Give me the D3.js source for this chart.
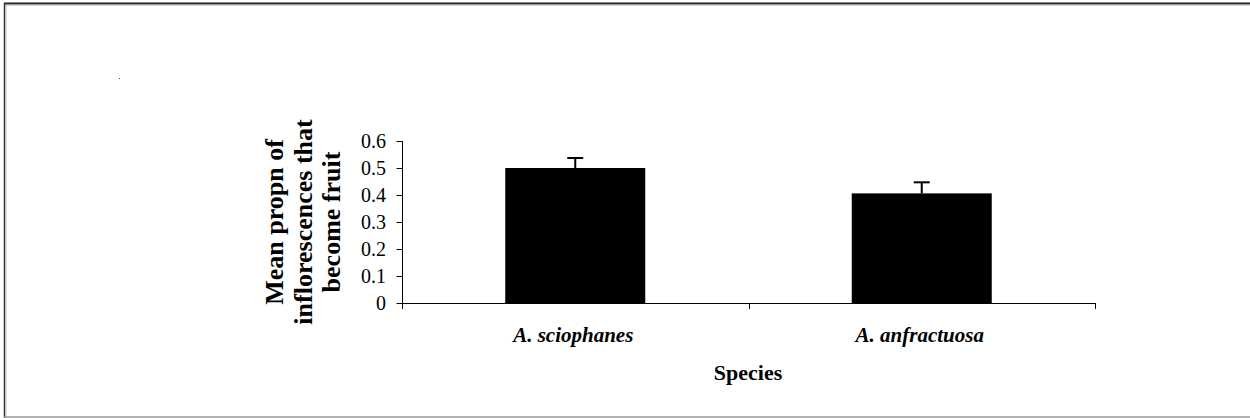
<!DOCTYPE html>
<html>
<head>
<meta charset="utf-8">
<script src="https://cdn.jsdelivr.net/npm/d3@7"></script>
<style>
  html, body { margin: 0; padding: 0; background: #fff; }
  svg { display: block; }
  text { font-family: "Liberation Serif", "Times New Roman", serif; fill: #000; }
</style>
</head>
<body>
<svg id="chart" width="1250" height="418"></svg>
<script>
const categories = ["A. sciophanes", "A. anfractuosa"];
const means = [0.50, 0.406];
const errors = [0.037, 0.041];
const yTicks = [0, 0.1, 0.2, 0.3, 0.4, 0.5, 0.6];
const yTitleLines = ["Mean propn of", "inflorescences that", "become fruit"];
const xTitle = "Species";

const svg = d3.select("#chart");

// outer frame
svg.append("line").attr("x1", 4).attr("x2", 1250).attr("y1", 3.5).attr("y2", 3.5).attr("stroke", "#222").attr("stroke-width", 2);
svg.append("line").attr("x1", 4).attr("x2", 1250).attr("y1", 5).attr("y2", 5).attr("stroke", "#aaa").attr("stroke-width", 1);
svg.append("line").attr("x1", 4.5).attr("x2", 4.5).attr("y1", 3).attr("y2", 418).attr("stroke", "#333").attr("stroke-width", 1.5);
svg.append("line").attr("x1", 6).attr("x2", 6).attr("y1", 5).attr("y2", 418).attr("stroke", "#bbb").attr("stroke-width", 1);
svg.append("line").attr("x1", 4).attr("x2", 1250).attr("y1", 417).attr("y2", 417).attr("stroke", "#999").attr("stroke-width", 1.5);
// stray dot
svg.append("rect").attr("x", 119).attr("y", 78).attr("width", 1).attr("height", 1).attr("fill", "#444");

const x0 = 402, x1 = 1095, yBottom = 303, yTop = 141;

const x = d3.scaleBand().domain(categories).range([x0, x1]).paddingInner(0).paddingOuter(0);
const y = d3.scaleLinear().domain([0, 0.6]).range([yBottom, yTop]);
const barW = 140;

const g = svg.append("g");

// bars
g.selectAll("rect.bar").data(categories).enter().append("rect")
  .attr("class", "bar")
  .attr("x", d => x(d) + x.bandwidth() / 2 - barW / 2)
  .attr("width", barW)
  .attr("y", (d, i) => y(means[i]))
  .attr("height", (d, i) => y(0) - y(means[i]))
  .attr("fill", "#000");

// error bars (upper only)
categories.forEach((c, i) => {
  const cx = x(c) + x.bandwidth() / 2;
  g.append("line").attr("x1", cx).attr("x2", cx)
    .attr("y1", y(means[i])).attr("y2", y(means[i] + errors[i]))
    .attr("stroke", "#000").attr("stroke-width", 2);
  g.append("line").attr("x1", cx - 8).attr("x2", cx + 8)
    .attr("y1", y(means[i] + errors[i])).attr("y2", y(means[i] + errors[i]))
    .attr("stroke", "#000").attr("stroke-width", 2);
});

// y axis
const yAxis = d3.axisLeft(y).tickValues(yTicks).tickSize(6).tickPadding(10)
  .tickFormat(d => d === 0 ? "0" : d3.format(".1f")(d));
const yg = svg.append("g").attr("transform", `translate(${x0},0)`).call(yAxis);
yg.select(".domain").remove();
yg.append("line").attr("x1", 0.5).attr("x2", 0.5).attr("y1", yTop).attr("y2", yBottom + 6).attr("stroke", "#000");
yg.selectAll(".tick line").attr("stroke", "#000").attr("transform", "translate(0.5,0)");
yg.selectAll(".tick text").attr("font-size", 20).attr("font-family", "Liberation Serif, serif")
  .attr("fill", "#000").attr("dy", "0.34em");

// x axis
svg.append("line").attr("x1", x0).attr("x2", x1).attr("y1", yBottom + 0.5).attr("y2", yBottom + 0.5).attr("stroke", "#000");
const xTickPos = [x0, x0 + x.bandwidth(), x1];
svg.selectAll("line.xtick").data(xTickPos).enter().append("line")
  .attr("class", "xtick")
  .attr("x1", d => Math.round(d) + 0.5).attr("x2", d => Math.round(d) + 0.5)
  .attr("y1", yBottom).attr("y2", yBottom + 6).attr("stroke", "#000");

// category labels
svg.selectAll("text.cat").data(categories).enter().append("text")
  .attr("class", "cat")
  .attr("x", d => x(d) + x.bandwidth() / 2 - 2)
  .attr("y", 342)
  .attr("text-anchor", "middle")
  .attr("font-size", 21)
  .attr("font-weight", "bold")
  .attr("font-style", "italic")
  .text(d => d);

// x title
svg.append("text").attr("x", 748).attr("y", 380).attr("text-anchor", "middle")
  .attr("font-size", 22).attr("font-weight", "bold").text(xTitle);

// y title
const lineX = [283, 312, 340];
yTitleLines.forEach((t, i) => {
  svg.append("text")
    .attr("transform", `translate(${lineX[i]},222) rotate(-90)`)
    .attr("text-anchor", "middle")
    .attr("font-size", 26)
    .attr("font-weight", "bold")
    .text(t);
});
</script>
</body>
</html>
